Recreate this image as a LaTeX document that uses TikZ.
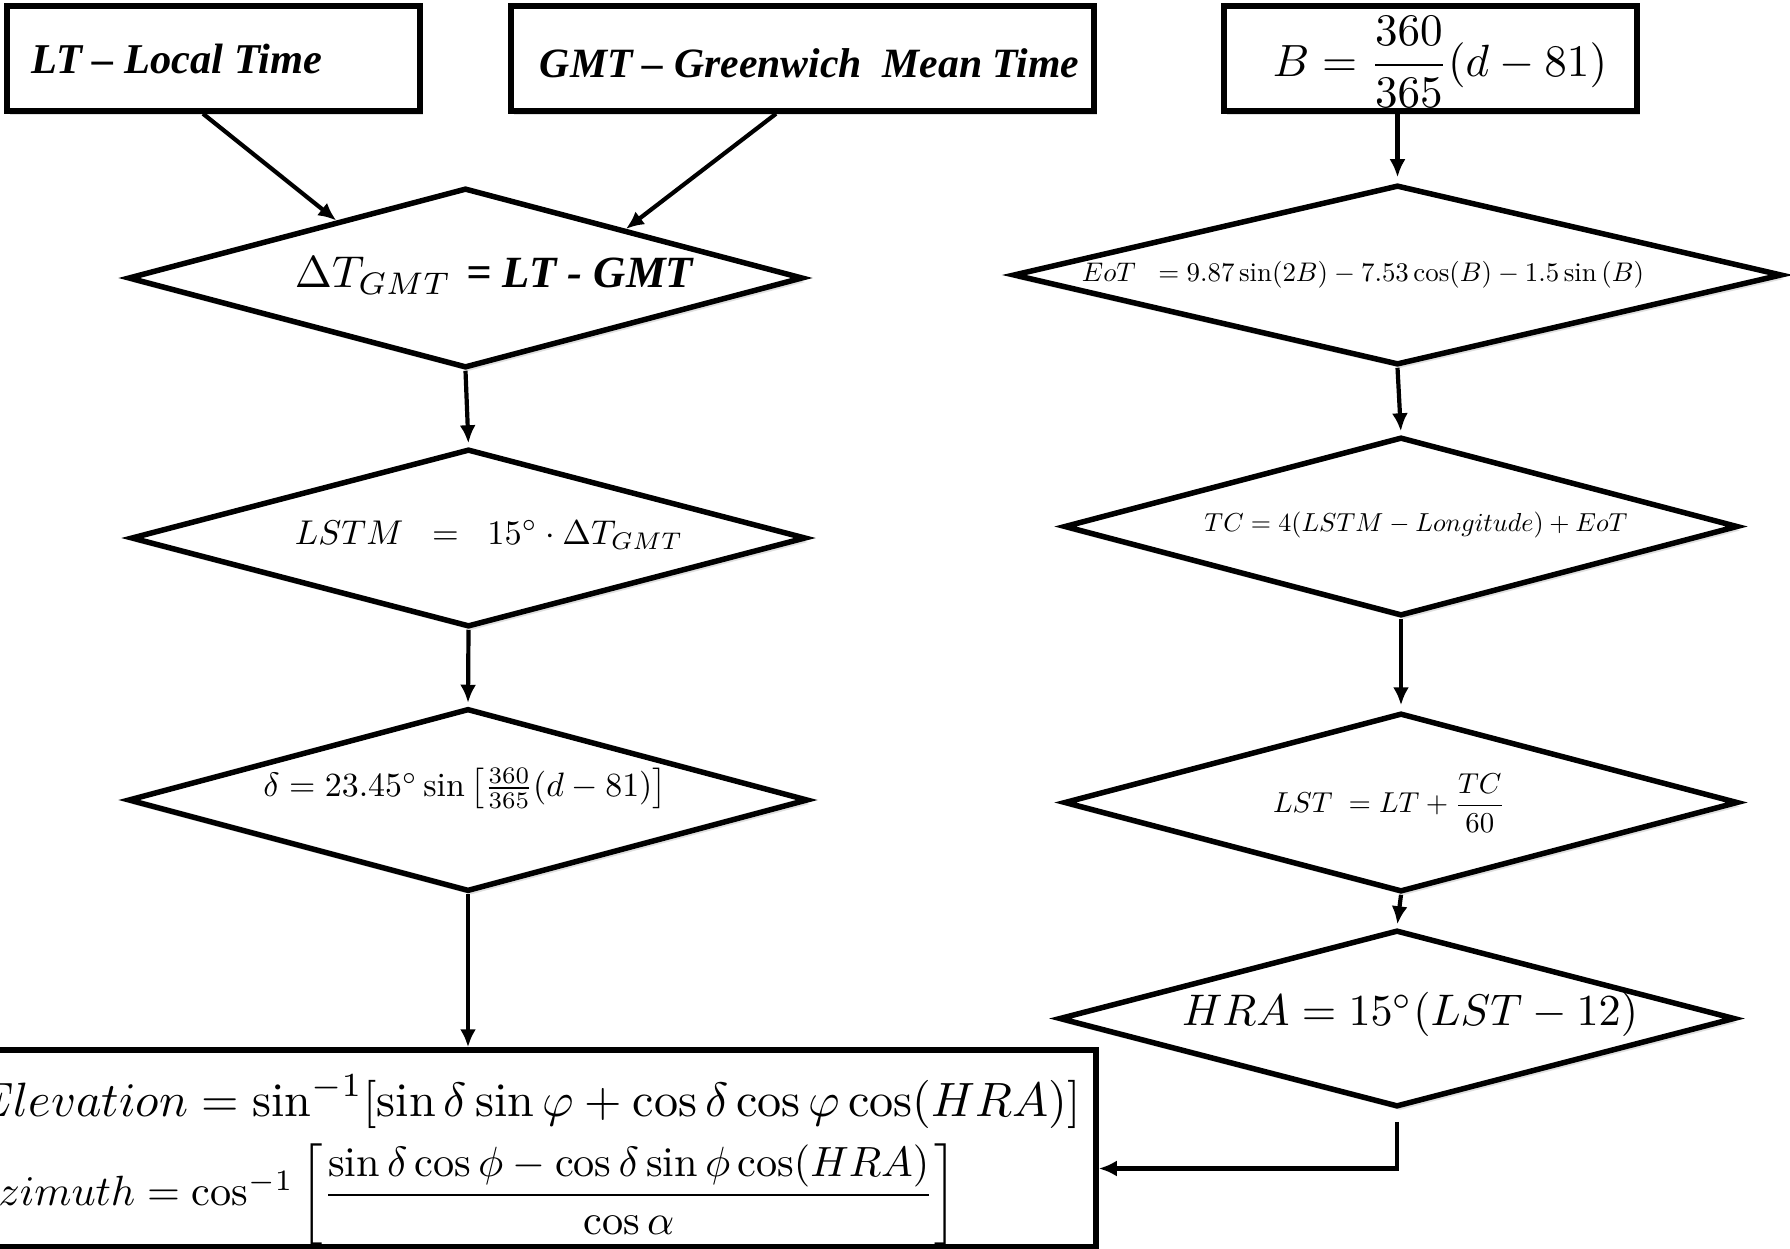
\documentclass[tikz,border=0pt]{standalone}
\usepackage{fontspec}
\usepackage{amsmath}
\usepackage{graphicx}
\usetikzlibrary{shapes.geometric,arrows.meta,calc,shadows}
\newfontfamily\tnr{Liberation Serif}
\newcommand\fitto[2]{\resizebox{#1pt}{!}{#2}}
\begin{document}
\begin{tikzpicture}[x=1pt,y=-1pt,
  shd/.style={drop shadow={opacity=0.25,shadow xshift=3pt,shadow yshift=-4pt}},
  box/.style={draw,line width=5.5pt,fill=white,inner sep=0pt,shd},
  dia/.style={draw,diamond,line width=5.5pt,fill=white,inner sep=0pt,shd},
  lbl/.style={inner sep=0pt},
  arr/.style={line width=4.2pt,-{Latex[length=18pt,width=16pt]}},
]
\useasboundingbox (0,0) rectangle (1790,1249);
\clip (0,0) rectangle (1790,1249);

% top boxes
\node[box,minimum width=413pt,minimum height=105pt] (lt) at (213.5,58.5) {};
\node[box,minimum width=583pt,minimum height=105pt] (gmt) at (802.5,58.5) {};
\node[box,minimum width=413pt,minimum height=105pt] (b) at (1430.5,58.5) {};

% left diamonds
\node[dia,minimum width=675pt,minimum height=180pt] (d1) at (465.5,278) {};
\node[dia,minimum width=675pt,minimum height=178pt] (d2) at (468.5,538) {};
\node[dia,minimum width=680pt,minimum height=183pt] (d3) at (468,800) {};

% right diamonds
\node[dia,minimum width=769pt,minimum height=180pt] (r1) at (1397.5,275) {};
\node[dia,minimum width=674pt,minimum height=179pt] (r2) at (1401,526.5) {};
\node[dia,minimum width=674pt,minimum height=179pt] (r3) at (1401,802.5) {};
\node[dia,minimum width=676pt,minimum height=177pt] (r4) at (1397,1018.5) {};

% bottom box
\node[box,minimum width=1160pt,minimum height=197pt] (bot) at (516,1148.5) {};

% labels
\node[lbl] (tlt) at (176.5,59) {\fitto{291}{\tnr\bfseries\itshape LT – Local Time}};
\node[lbl] (tgmt) at (809.5,63) {\fitto{539}{\tnr\bfseries\itshape GMT – Greenwich\ \ Mean Time}};
\node[lbl] (tb) at (1440,62) {\fitto{334}{$B=\dfrac{360}{365}(d-81)$}};

\node[lbl] (td1) at (494,276) {\fitto{398}{$\Delta T_{GMT}$ {\tnr\bfseries\itshape = LT - GMT}}};
\node[lbl] (td2) at (489,535) {\fitto{388}{$LSTM\;\;=\;\;15^\circ\cdot\Delta T_{GMT}$}};
\node[lbl] (td3) at (465,788) {\fitto{403}{$\delta=23.45^\circ\sin\left[\tfrac{360}{365}(d-81)\right]$}};

\node[lbl] (tr1) at (1363,275) {\fitto{562}{$EoT\;\;=9.87\sin(2B)-7.53\cos(B)-1.5\sin\,(B)$}};
\node[lbl] (tr2) at (1416,525) {\fitto{423}{$TC=4(LSTM-Longitude)+EoT$}};
\node[lbl] (tr3) at (1389,803) {\fitto{232}{$LST\;=LT+\dfrac{TC}{60}$}};
\node[lbl] (tr4) at (1410,1014) {\fitto{456}{$HRA=15^\circ(LST-12)$}};

\node[lbl,anchor=east] (tel) at (1081,1102) {\fitto{1105}{$Elevation=\sin^{-1}[\sin\delta\sin\varphi+\cos\delta\cos\varphi\cos(HRA)]$}};
\node[lbl,anchor=east] (taz) at (957,1195) {\fitto{990}{$Azimuth=\cos^{-1}\left[\dfrac{\sin\delta\cos\phi-\cos\delta\sin\phi\cos(HRA)}{\cos\alpha}\right]$}};

% connectors
\draw[arr] ($(lt.south west)!0.475!(lt.south east)$) -- (d1.156);
\draw[arr] ($(gmt.south west)!0.455!(gmt.south east)$) -- (d1.17);
\draw[arr,shorten >=3pt] (d1.south) -- (d2.north);
\draw[arr,shorten >=3pt] (d2.south) -- (d3.north);
\draw[arr] (d3.south) -- (d3.south |- bot.north);
\draw[arr,shorten >=5pt] (r1.north |- b.south) -- (r1.north);
\draw[arr,shorten >=3pt] (r1.south) -- (r2.north);
\draw[arr,shorten >=5pt] (r2.south) -- (r3.north);
\draw[arr,shorten >=3pt] (r3.south) -- (r4.north);
\draw[arr] ([yshift=-12pt]r4.south) |- ($(bot.east)+(0,20)$);
\end{tikzpicture}
\end{document}
